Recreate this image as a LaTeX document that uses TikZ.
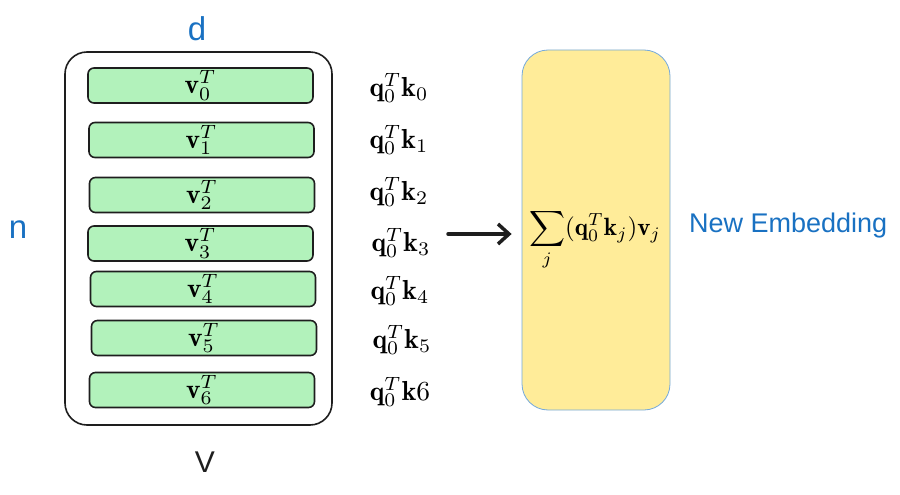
\documentclass[tikz,border=0pt]{standalone}
\usepackage{amsmath}
\usepackage{fontspec}
\newfontfamily\handfont{Liberation Sans}
\usetikzlibrary{arrows.meta}
\definecolor{barfill}{HTML}{B2F2BB}
\definecolor{ink}{HTML}{1E1E1E}
\definecolor{hblue}{HTML}{1971C2}
\definecolor{yfill}{HTML}{FFEC99}
\definecolor{ystroke}{HTML}{74A9DC}
\newcommand{\scmath}[1]{\scalebox{2.75}{$#1$}}
\tikzset{
  vbar/.style={draw=ink, line width=1.6pt, fill=barfill, rounded corners=6pt,
    minimum width=225pt, minimum height=35pt, inner sep=0pt},
  score/.style={inner sep=0pt},
  bluelbl/.style={text=hblue, font=\handfont\fontsize{27}{32}\selectfont, inner sep=0pt},
}
\begin{document}
\begin{tikzpicture}[x=1pt,y=-1pt]
\useasboundingbox (0,0) rectangle (900,495);
% outer matrix box
\node[draw=ink, line width=1.6pt, rounded corners=22pt, minimum width=267pt,
  minimum height=373pt, inner sep=0pt] (V) at (198.5,238.5) {};
% rows
\node[vbar] (b0) at (200.5,85.5) {\scmath{\mathbf{v}_0^T}};
\node[vbar] (b1) at (201.5,140) {\scmath{\mathbf{v}_1^T}};
\node[vbar] (b2) at (202,195) {\scmath{\mathbf{v}_2^T}};
\node[vbar] (b3) at (200.5,243.5) {\scmath{\mathbf{v}_3^T}};
\node[vbar] (b4) at (203,289) {\scmath{\mathbf{v}_4^T}};
\node[vbar] (b5) at (204,338) {\scmath{\mathbf{v}_5^T}};
\node[vbar] (b6) at (202,390) {\scmath{\mathbf{v}_6^T}};
% scores
\node[score] (s0) at (399,88) {\scmath{\mathbf{q}_0^T\mathbf{k}_0}};
\node[score] (s1) at (399,140) {\scmath{\mathbf{q}_0^T\mathbf{k}_1}};
\node[score] (s2) at (399,192) {\scmath{\mathbf{q}_0^T\mathbf{k}_2}};
\node[score] (s3) at (401,243) {\scmath{\mathbf{q}_0^T\mathbf{k}_3}};
\node[score] (s4) at (400,291) {\scmath{\mathbf{q}_0^T\mathbf{k}_4}};
\node[score] (s5) at (402,340) {\scmath{\mathbf{q}_0^T\mathbf{k}_5}};
\node[score] (s6) at (400,392) {\scmath{\mathbf{q}_0^T\mathbf{k}6}};
% axis labels
\node[text=hblue, font=\handfont\fontsize{33}{38}\selectfont, inner sep=0pt] (d) at (197,29) {d};
\node[text=hblue, font=\handfont\fontsize{33}{38}\selectfont, inner sep=0pt] (n) at (18,230) {n};
\node[text=ink, font=\handfont\fontsize{30}{34}\selectfont, inner sep=0pt] (vl) at (205,462) {V};
% result box
\node[draw=ystroke, line width=0.8pt, fill=yfill, rounded corners=26pt,
  minimum width=148pt, minimum height=360pt, inner sep=0pt] (R) at (596,230) {};
\node[inner sep=0pt] (f) at (595,240)
  {\scalebox{2.5}{$\displaystyle\sum_j(\mathbf{q}_0^T\mathbf{k}_j)\mathbf{v}_j$}};
\node[bluelbl, anchor=west] (ne) at (689,226) {New Embedding};
% arrow
\coordinate (a0) at (448,234);
\draw[ink, line width=3.5pt, line cap=round, shorten >=10pt,
  -{Straight Barb[length=11pt,width=20pt,line width=3.5pt]}] (a0) -- (R.west |- a0);
\end{tikzpicture}
\end{document}
